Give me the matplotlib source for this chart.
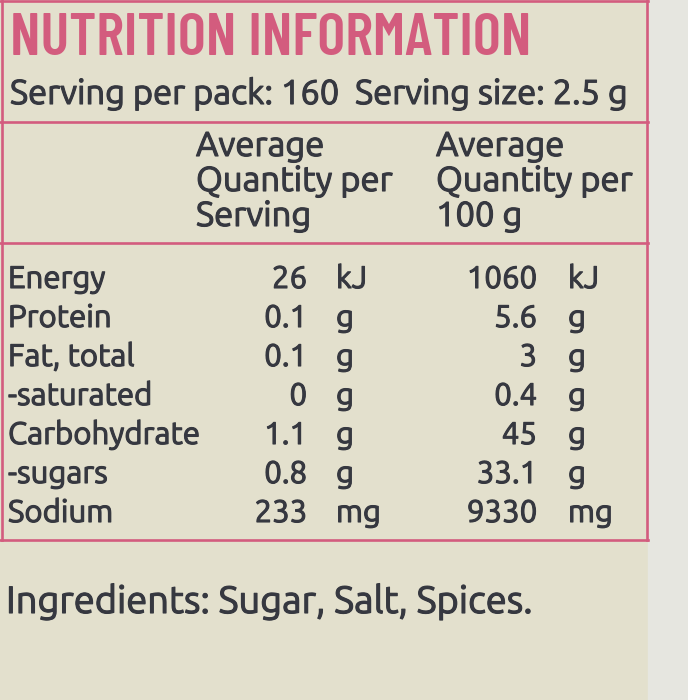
import matplotlib
matplotlib.use("Agg")
import matplotlib.pyplot as plt
import matplotlib.patheffects as pe

# --- dati dell'etichetta ---
title = "NUTRITION INFORMATION"
serving_line = "Serving per pack: 160  Serving size: 2.5 g"
header_serving = ["Average", "Quantity per", "Serving"]
header_100g = ["Average", "Quantity per", "100 g"]
nutrients = ["Energy", "Protein", "Fat, total", "-saturated", "Carbohydrate", "-sugars", "Sodium"]
per_serving = ["26", "0.1", "0.1", "0", "1.1", "0.8", "233"]
per_100g = ["1060", "5.6", "3", "0.4", "45", "33.1", "9330"]
units = ["kJ", "g", "g", "g", "g", "g", "mg"]
ingredients = "Ingredients: Sugar, Salt, Spices."

BG = "#e3e0cd"
PINK = "#d35c7e"
INK = "#363840"
BODY = ["Ubuntu", "DejaVu Sans"]
TITLE_FONT = ["Barlow Condensed", "Roboto Condensed", "DejaVu Sans"]
# leggero ispessimento del tratto, come nella stampa originale
THICK = [pe.withStroke(linewidth=0.8, foreground=INK)]

fig = plt.figure(figsize=(6.88, 7.0), dpi=100)
fig.patch.set_facecolor(BG)
ax = fig.add_axes([0, 0, 1, 1])
ax.set_xlim(0, 688)
ax.set_ylim(700, 0)
ax.axis("off")
renderer = fig.canvas.get_renderer()


def size_for_width(s, width, **kw):
    # misura il testo a 20 pt e scala la dimensione per ottenere la larghezza voluta
    t = ax.text(0, 0, s, fontsize=20, **kw)
    w = t.get_window_extent(renderer).width
    t.remove()
    return 20 * width / w


def body(x, y, s, fs, ha="left"):
    ax.text(x, y, s, fontsize=fs, family=BODY, color=INK, va="baseline",
            ha=ha, path_effects=THICK)


# fascia a destra del riquadro (fuori dall'etichetta)
ax.fill_between([648, 688], 0, 700, color="#e6e6e0", zorder=0)

# bordi e linee del riquadro
lw = 1.9
ax.plot([2, 2], [0, 540], color=PINK, lw=lw)
ax.plot([647, 647], [0, 540], color=PINK, lw=lw)
ax.plot([0, 648], [1, 1], color=PINK, lw=lw)
for y in [122, 243, 540]:
    ax.plot([0, 648], [y, y], color=PINK, lw=lw)

# titolo
fs = size_for_width(title, 520, family=TITLE_FONT, weight="semibold")
ax.text(10, 55, title, fontsize=fs, family=TITLE_FONT, weight="semibold",
        color=PINK, va="baseline")

# riga porzioni
fs = size_for_width(serving_line, 618, family=BODY)
body(10, 104, serving_line, fs)

# intestazioni colonne
fs = size_for_width("Quantity per", 197, family=BODY)
for i, (a, b) in enumerate(zip(header_serving, header_100g)):
    y = 156 + i * 35
    body(196, y, a, fs)
    body(436, y, b, fs)

# tabella valori
fs = size_for_width("Carbohydrate", 192, family=BODY)
for i, name in enumerate(nutrients):
    y = 288 + i * 39
    body(8, y, name, fs)
    body(307, y, per_serving[i], fs, ha="right")
    body(336, y, units[i], fs)
    body(537, y, per_100g[i], fs, ha="right")
    body(568, y, units[i], fs)

# ingredienti
fs = size_for_width(ingredients, 527, family=BODY)
body(6, 613, ingredients, fs)

fig.savefig("out.png", facecolor=BG)
